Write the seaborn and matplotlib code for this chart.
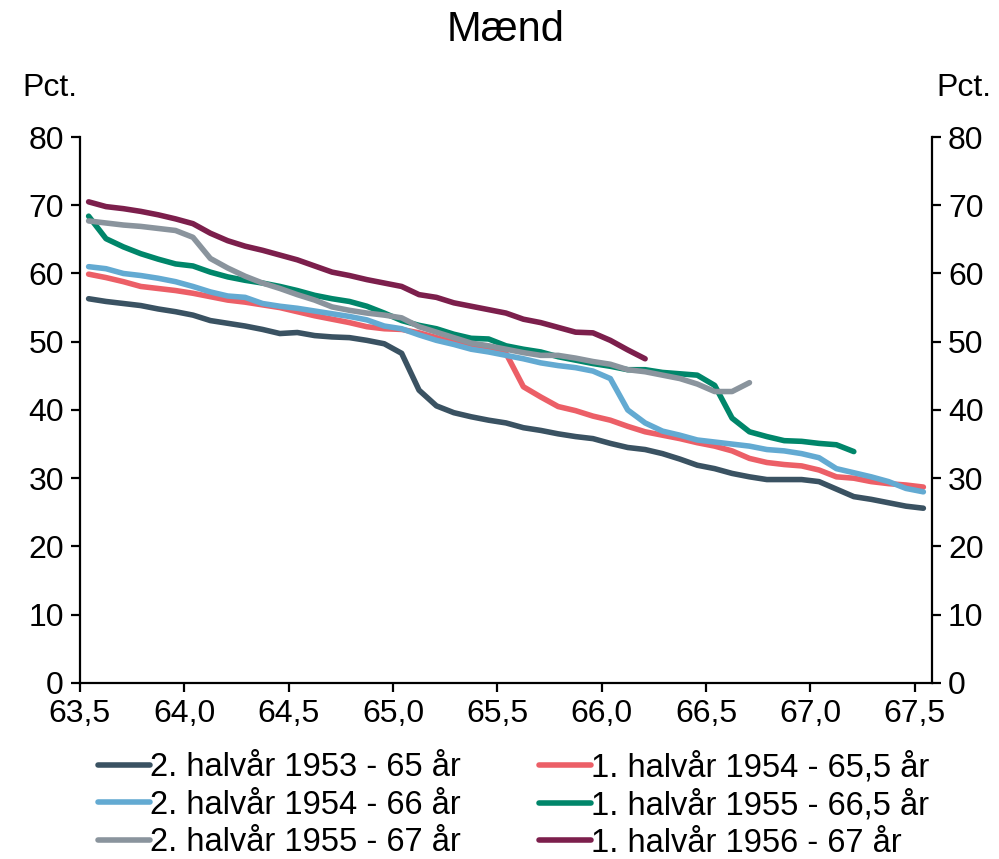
import numpy as np
import pandas as pd
import matplotlib
matplotlib.use("Agg")
import matplotlib.pyplot as plt
import seaborn as sns

# ---------------- data ----------------
title = "Mænd"
unit = "Pct."
series_names = [
    "2. halvår 1953 - 65 år",
    "1. halvår 1954 - 65,5 år",
    "2. halvår 1954 - 66 år",
    "1. halvår 1955 - 66,5 år",
    "2. halvår 1955 - 67 år",
    "1. halvår 1956 - 67 år",
]
colors = ["#3A5262", "#EC5F67", "#63AAD2", "#00866A", "#8A949D", "#7C1F4C"]

h2_1953 = [56.3, 55.9, 55.6, 55.3, 54.8, 54.4, 53.9, 53.1, 52.7, 52.3,
           51.8, 51.2, 51.35, 50.9, 50.7, 50.6, 50.2, 49.7, 48.3, 42.9,
           40.6, 39.6, 39.0, 38.5, 38.1, 37.4, 37.0, 36.5, 36.1, 35.8,
           35.1, 34.5, 34.2, 33.6, 32.8, 31.9, 31.4, 30.7, 30.2, 29.8,
           29.8, 29.8, 29.5, 28.4, 27.3, 26.9, 26.4, 25.9, 25.6]
h1_1954 = [59.9, 59.4, 58.8, 58.1, 57.8, 57.5, 57.1, 56.6, 56.1, 55.8,
           55.4, 55.0, 54.4, 53.8, 53.3, 52.8, 52.2, 51.9, 51.8, 51.3,
           50.6, 49.9, 49.3, 48.8, 48.3, 43.4, 41.9, 40.5, 39.9, 39.1,
           38.5, 37.6, 36.8, 36.3, 35.8, 35.2, 34.7, 34.0, 32.9, 32.3,
           32.0, 31.8, 31.2, 30.2, 30.0, 29.5, 29.2, 29.0, 28.7]
h2_1954 = [61.0, 60.7, 60.0, 59.7, 59.3, 58.8, 58.1, 57.3, 56.7, 56.5,
           55.6, 55.2, 54.9, 54.5, 54.1, 53.7, 53.2, 52.3, 51.9, 51.0,
           50.2, 49.6, 48.9, 48.5, 48.0, 47.5, 46.9, 46.5, 46.2, 45.7,
           44.6, 40.0, 38.1, 36.9, 36.3, 35.6, 35.3, 35.0, 34.7, 34.2,
           34.0, 33.6, 33.0, 31.4, 30.8, 30.2, 29.5, 28.5, 28.0]
h1_1955 = [68.4, 65.1, 63.9, 62.9, 62.1, 61.4, 61.1, 60.2, 59.5, 59.0,
           58.6, 58.1, 57.5, 56.8, 56.3, 55.9, 55.2, 54.2, 53.1, 52.4,
           51.9, 51.1, 50.5, 50.4, 49.4, 48.9, 48.5, 47.8, 47.3, 46.8,
           46.4, 45.9, 45.9, 45.5, 45.3, 45.1, 43.6, 38.8, 36.8, 36.1,
           35.5, 35.4, 35.1, 34.9, 33.9]
h2_1955 = [67.7, 67.4, 67.1, 66.9, 66.6, 66.3, 65.3, 62.2, 60.8, 59.6,
           58.6, 57.8, 56.9, 56.1, 55.1, 54.6, 54.2, 53.9, 53.5, 52.2,
           51.4, 50.6, 49.8, 49.4, 48.9, 48.4, 48.0, 48.0, 47.6, 47.1,
           46.7, 45.9, 45.6, 45.1, 44.6, 43.8, 42.7, 42.7, 44.0]
h1_1956 = [70.5, 69.8, 69.5, 69.1, 68.6, 68.0, 67.3, 65.9, 64.8, 64.0,
           63.4, 62.7, 62.0, 61.1, 60.2, 59.7, 59.1, 58.6, 58.1, 56.9,
           56.5, 55.7, 55.2, 54.7, 54.2, 53.3, 52.8, 52.1, 51.4, 51.3,
           50.2, 48.8, 47.5]

x_ticks = [63.5, 64.0, 64.5, 65.0, 65.5, 66.0, 66.5, 67.0, 67.5]
x_ticklabels = ["63,5", "64,0", "64,5", "65,0", "65,5", "66,0", "66,5", "67,0", "67,5"]
y_ticks = [0, 10, 20, 30, 40, 50, 60, 70, 80]

all_series = [h2_1953, h1_1954, h2_1954, h1_1955, h2_1955, h1_1956]

# long table: each value sits in the middle of its monthly age category
rows = []
for name, vals in zip(series_names, all_series):
    for k, v in enumerate(vals):
        rows.append({"alder": 63.5 + (k + 0.5) / 12, "pct": v, "serie": name})
df = pd.DataFrame(rows)

# ---------------- plot ----------------
sns.set_style("ticks")
plt.rcParams["font.family"] = ["Liberation Sans", "DejaVu Sans"]
plt.rcParams["text.color"] = "black"
plt.rcParams["xtick.color"] = "black"
plt.rcParams["ytick.color"] = "black"

fig = plt.figure(figsize=(9.99, 8.59), dpi=100)
ax = fig.add_axes([0.080, 0.205, 0.853, 0.6355])

sns.lineplot(data=df, x="alder", y="pct", hue="serie", hue_order=series_names,
             palette=colors, linewidth=4.0, ax=ax, legend=False,
             estimator=None, sort=False)
for ln in ax.get_lines():
    ln.set_solid_joinstyle("round")
    ln.set_solid_capstyle("round")

ax.set_xlim(63.5, 67.5 + 1 / 12)
ax.set_ylim(0, 80)
ax.set_xticks(x_ticks)
ax.set_xticklabels(x_ticklabels)
ax.set_yticks(y_ticks)
ax.set_xlabel("")
ax.set_ylabel("")

tick_kw = dict(direction="out", length=6.5, width=1.6, labelsize=23,
               colors="black", pad=5)
ax.tick_params(axis="both", **tick_kw)
ax.spines["top"].set_visible(False)
ax.spines["right"].set_visible(False)
for s in ["left", "bottom"]:
    ax.spines[s].set_linewidth(1.6)
    ax.spines[s].set_color("black")

ax2 = ax.twinx()
ax2.set_ylim(0, 80)
ax2.set_yticks(y_ticks)
ax2.tick_params(axis="y", **tick_kw)
for s in ["top", "left", "bottom"]:
    ax2.spines[s].set_visible(False)
ax2.spines["right"].set_linewidth(1.6)
ax2.spines["right"].set_color("black")

fig.text(0.506, 1 - 30 / 859, title, ha="center", va="center", fontsize=30)
fig.text(22 / 999, 1 - 88 / 859, unit, ha="left", va="center", fontsize=23)
fig.text(936 / 999, 1 - 88 / 859, unit, ha="left", va="center", fontsize=23)

lines = ax.get_lines()[:6]
order = [0, 2, 4, 1, 3, 5]
fig.legend([lines[i] for i in order], [series_names[i] for i in order],
           ncol=2, loc="upper center", bbox_to_anchor=(0.514, 0.125),
           frameon=False, fontsize=23.5, handlelength=1.6, handletextpad=0.0,
           columnspacing=2.4, labelspacing=0.2, borderpad=0, borderaxespad=0)

fig.savefig("out.png", dpi=100)
